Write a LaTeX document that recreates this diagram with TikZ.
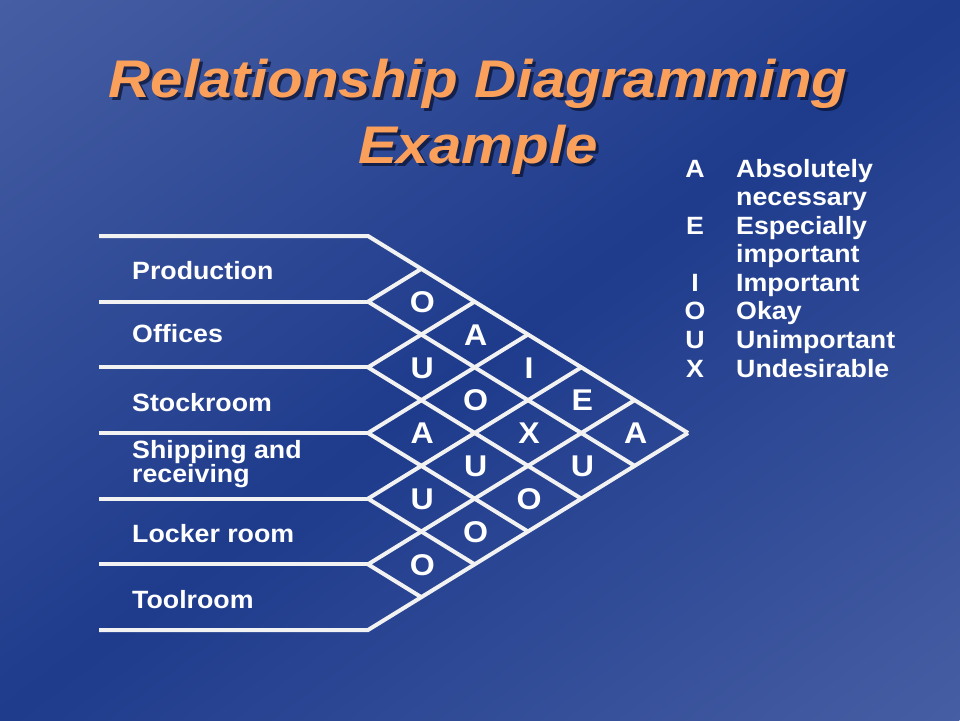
\documentclass[tikz,border=0pt]{standalone}
\usepackage{fontspec}
\setmainfont{Liberation Sans}
\newfontfamily\boldf[FakeStretch=1.07]{Liberation Sans Bold}
\newfontfamily\titlef[FakeStretch=1.1]{Liberation Sans Bold Italic}
\definecolor{bglight}{RGB}{70,94,163}
\definecolor{bgdark}{RGB}{30,59,140}
\definecolor{ttlorange}{RGB}{250,160,90}
\definecolor{linew}{RGB}{242,242,242}
\definecolor{shadowc}{RGB}{8,16,45}
\newcommand\shnode[5]{% #1 style, #2 shadow offset, #3 name, #4 coord, #5 text
  \node[#1, text=shadowc, text opacity=0.7, xshift=#2, yshift=-#2] (#3-sh) at (#4) {#5};
  \node[#1] (#3) at (#4) {#5};}
\begin{document}
\begin{tikzpicture}[x=1pt,y=-1pt,
  gridline/.style={draw=linew, line width=4pt},
  lbl/.style={anchor=base west, inner sep=0pt, text=white, align=left,
    font=\boldf\fontsize{25}{24}\selectfont},
  legkey/.style={anchor=base, inner sep=0pt, text=white,
    font=\boldf\fontsize{25}{28.6}\selectfont},
  legtxt/.style={anchor=base west, inner sep=0pt, text=white, align=left,
    font=\boldf\fontsize{25}{28.6}\selectfont},
  rel/.style={anchor=base, inner sep=0pt, text=white,
    font=\boldf\fontsize{30}{32}\selectfont},
  ttl/.style={anchor=base, inner sep=0pt, text=ttlorange,
    font=\titlef\fontsize{53}{60}\selectfont}]
\useasboundingbox (0,0) rectangle (960,720);
% background
\begin{scope}
  \clip (0,0) rectangle (960,720);
  \shade[transform canvas={shift={(480pt,-360pt)},rotate=-53.13},
    left color=bglight, right color=bglight, middle color=bgdark]
    (-576,-800) rectangle (576,800);
\end{scope}
% title (with drop shadow)
\shnode{ttl}{3pt}{title1}{478,97}{Relationship Diagramming}
\shnode{ttl}{3pt}{title2}{478,163}{Example}
% grid coordinates
\foreach \i in {0,...,6} {
  \coordinate (L\i) at (99, {236+65.667*\i});
  \coordinate (R\i) at (368, {236+65.667*\i});
  \coordinate (T\i) at ({368+53.333*\i}, {236+32.833*\i});
  \coordinate (B\i) at ({368+53.333*(6-\i)}, {433+32.833*\i});
}
\draw[gridline] (L0) -- (R0) -- (B0);
\draw[gridline] (L6) -- (R6) -- (T6);
\foreach \i in {1,...,5} {
  \draw[gridline] (L\i) -- (R\i);
  \draw[gridline] (T\i) -- (R\i) -- (B\i);
}
% department labels (multi-line nodes anchored at last baseline)
\node[lbl] (prod)  at (132,279)   {Production};
\node[lbl] (offi)  at (132,342)   {Offices};
\node[lbl] (stock) at (132,411)   {Stockroom};
\node[lbl] (ship)  at (132,482.5) {Shipping and\\receiving};
\node[lbl] (lock)  at (132,542)   {Locker room};
\node[lbl] (tool)  at (132,608)   {Toolroom};
% relationship letters
\foreach \i/\j/\t in {0/1/O,0/2/A,0/3/I,0/4/E,0/5/A,
                      1/2/U,1/3/O,1/4/X,1/5/U,
                      2/3/A,2/4/U,2/5/O,
                      3/4/U,3/5/O,
                      4/5/O} {
  \node[rel] (r\i\j) at ({369+53.333*(\j-\i)},{268.83+32.833*(\i+\j)+10.8}) {\t};
}
% legend
\node[legkey] (kA) at (695,177)   {A};
\node[legkey] (kE) at (695,234.1) {E};
\node[legkey] (kI) at (695,291.3) {I};
\node[legkey] (kO) at (695,319.9) {O};
\node[legkey] (kU) at (695,348.4) {U};
\node[legkey] (kX) at (695,377)   {X};
\node[legtxt] (tA) at (736,205.6) {Absolutely\\necessary};
\node[legtxt] (tE) at (736,262.7) {Especially\\important};
\node[legtxt] (tI) at (736,291.3) {Important};
\node[legtxt] (tO) at (736,319.9) {Okay};
\node[legtxt] (tU) at (736,348.4) {Unimportant};
\node[legtxt] (tX) at (736,377)   {Undesirable};
\end{tikzpicture}
\end{document}
